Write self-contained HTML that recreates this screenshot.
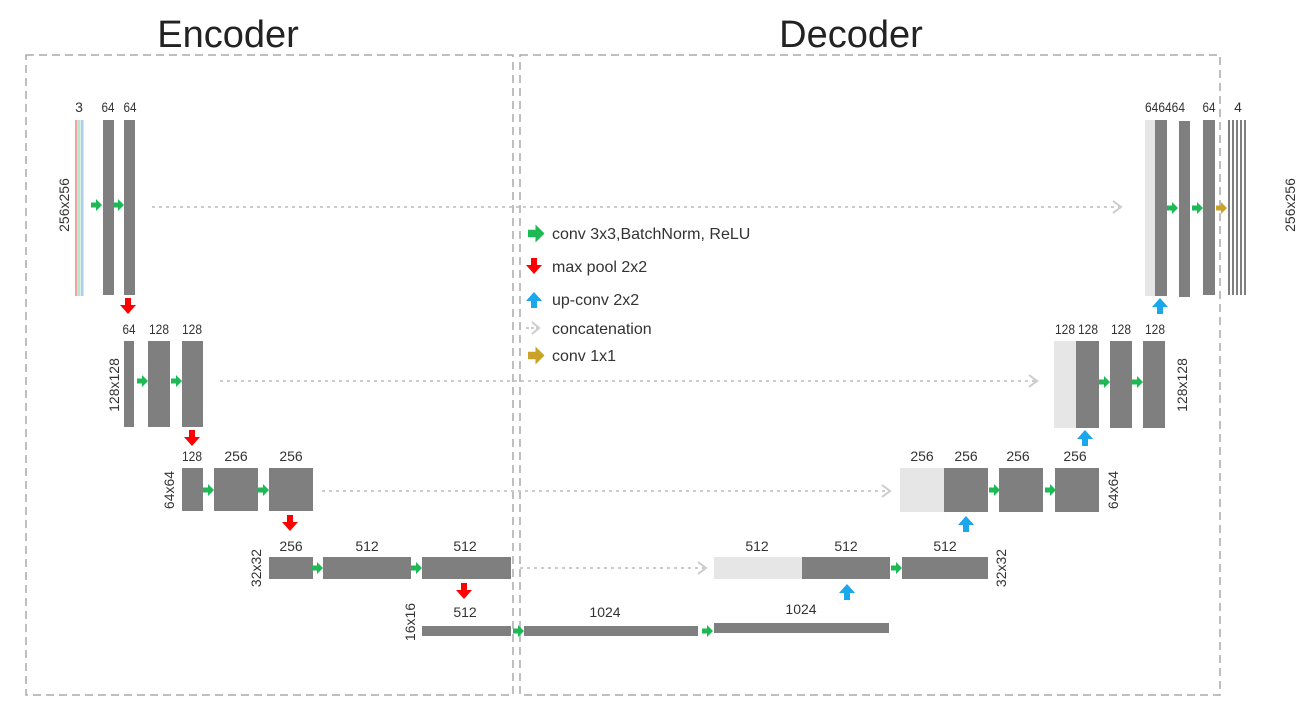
<!DOCTYPE html>
<html><head><meta charset="utf-8"><style>
html,body{margin:0;padding:0;background:#fff}
svg{display:block}
.l{font-family:"Liberation Sans Narrow","Liberation Sans",sans-serif;font-size:14px;fill:#333;text-anchor:middle}
.g{font-family:"Liberation Sans",sans-serif;font-size:16px;fill:#333}
.t{font-family:"Liberation Sans",sans-serif;font-size:38px;fill:#222;text-anchor:middle}
.d{fill:#7f7f7f}.w{fill:#e6e6e6}
</style></head><body>
<svg width="1311" height="714" viewBox="0 0 1311 714" xmlns="http://www.w3.org/2000/svg">
<defs>
<polygon id="ga" points="-5,-2.5 0,-2.5 0,-6 6,0 0,6 0,2.5 -5,2.5" fill="#1db954"/>
<polygon id="oa" points="-5,-2.5 0,-2.5 0,-6 6,0 0,6 0,2.5 -5,2.5" fill="#c9a227"/>
<polygon id="ra" points="-3,0 3,0 3,7 8,7 0,16 -8,7 -3,7" fill="#f00"/>
<polygon id="ba" points="-3,16 3,16 3,9 8,9 0,0 -8,9 -3,9" fill="#1aa7ec"/>
</defs>
<g fill="none" stroke="#aaa" stroke-width="1.5" stroke-dasharray="8,5">
<rect x="26" y="55" width="487" height="640"/>
<rect x="520" y="55" width="700" height="640"/>
</g>
<text class="t" x="228" y="47">Encoder</text>
<text class="t" x="851" y="47">Decoder</text>
<g stroke="#ccc" stroke-width="2" stroke-dasharray="3,4" fill="none">
<line x1="152" y1="207" x2="1120" y2="207"/>
<line x1="220" y1="381" x2="1035" y2="381"/>
<line x1="322" y1="491" x2="888" y2="491"/>
<line x1="520" y1="568" x2="704" y2="568"/>
</g>
<g stroke="#ccc" stroke-width="2" fill="none">
<polyline points="1113,201 1121,207 1113,213"/>
<polyline points="1029,375 1037,381 1029,387"/>
<polyline points="882,485 890,491 882,497"/>
<polyline points="698,562 706,568 698,574"/>
</g>
<!-- row1 encoder -->
<rect x="75" y="120" width="2.5" height="176" fill="#f4a0a0"/>
<rect x="78" y="120" width="2.5" height="176" fill="#b8e6cc"/>
<rect x="81" y="120" width="2.5" height="176" fill="#a8cdef"/>
<rect class="d" x="103" y="120" width="11" height="175"/>
<rect class="d" x="124" y="120" width="11" height="175"/>
<text class="l" x="79" y="112">3</text><text class="l" x="108" y="112" textLength="13" lengthAdjust="spacingAndGlyphs">64</text><text class="l" x="130" y="112" textLength="13" lengthAdjust="spacingAndGlyphs">64</text>
<text class="l" transform="translate(69,205) rotate(-90)">256x256</text>
<use href="#ga" x="96" y="205"/><use href="#ga" x="118" y="205"/>
<use href="#ra" x="128" y="298"/>
<!-- row2 -->
<rect class="d" x="124" y="341" width="10" height="86"/>
<rect class="d" x="148" y="341" width="22" height="86"/>
<rect class="d" x="182" y="341" width="21" height="86"/>
<text class="l" x="129" y="334" textLength="13" lengthAdjust="spacingAndGlyphs">64</text><text class="l" x="159" y="334" textLength="20" lengthAdjust="spacingAndGlyphs">128</text><text class="l" x="192" y="334" textLength="20" lengthAdjust="spacingAndGlyphs">128</text>
<text class="l" transform="translate(119,385) rotate(-90)">128x128</text>
<use href="#ga" x="142" y="381"/><use href="#ga" x="176" y="381"/>
<use href="#ra" x="192" y="430"/>
<!-- row3 -->
<rect class="d" x="182" y="468" width="21" height="43"/>
<rect class="d" x="214" y="468" width="44" height="43"/>
<rect class="d" x="269" y="468" width="44" height="43"/>
<text class="l" x="192" y="461" textLength="20" lengthAdjust="spacingAndGlyphs">128</text><text class="l" x="236" y="461">256</text><text class="l" x="291" y="461">256</text>
<text class="l" transform="translate(174,490) rotate(-90)">64x64</text>
<use href="#ga" x="208" y="490"/><use href="#ga" x="263" y="490"/>
<use href="#ra" x="290" y="515"/>
<!-- row4 -->
<rect class="d" x="269" y="557" width="44" height="22"/>
<rect class="d" x="323" y="557" width="88" height="22"/>
<rect class="d" x="422" y="557" width="89" height="22"/>
<text class="l" x="291" y="551">256</text><text class="l" x="367" y="551">512</text><text class="l" x="465" y="551">512</text>
<text class="l" transform="translate(261,568) rotate(-90)">32x32</text>
<use href="#ga" x="317" y="568"/><use href="#ga" x="416" y="568"/>
<use href="#ra" x="464" y="583"/>
<!-- row5 -->
<rect class="d" x="422" y="626" width="89" height="10"/>
<rect class="d" x="524" y="626" width="174" height="10"/>
<rect class="d" x="714" y="623" width="175" height="10"/>
<text class="l" x="465" y="617">512</text><text class="l" x="605" y="617">1024</text><text class="l" x="801" y="614">1024</text>
<text class="l" transform="translate(415,622) rotate(-90)">16x16</text>
<use href="#ga" x="518" y="631"/><use href="#ga" x="707" y="631"/>
<!-- decoder row4 -->
<rect class="w" x="714" y="557" width="88" height="22"/>
<rect class="d" x="802" y="557" width="88" height="22"/>
<rect class="d" x="902" y="557" width="86" height="22"/>
<text class="l" x="757" y="551">512</text><text class="l" x="846" y="551">512</text><text class="l" x="945" y="551">512</text>
<text class="l" transform="translate(1006,568) rotate(-90)">32x32</text>
<use href="#ga" x="896" y="568"/>
<use href="#ba" x="847" y="584"/>
<!-- decoder row3 -->
<rect class="w" x="900" y="468" width="44" height="44"/>
<rect class="d" x="944" y="468" width="44" height="44"/>
<rect class="d" x="999" y="468" width="44" height="44"/>
<rect class="d" x="1055" y="468" width="44" height="44"/>
<text class="l" x="922" y="461">256</text><text class="l" x="966" y="461">256</text><text class="l" x="1018" y="461">256</text><text class="l" x="1075" y="461">256</text>
<text class="l" transform="translate(1118,490) rotate(-90)">64x64</text>
<use href="#ga" x="994" y="490"/><use href="#ga" x="1050" y="490"/>
<use href="#ba" x="966" y="516"/>
<!-- decoder row2 -->
<rect class="w" x="1054" y="341" width="22" height="87"/>
<rect class="d" x="1076" y="341" width="23" height="87"/>
<rect class="d" x="1110" y="341" width="22" height="87"/>
<rect class="d" x="1143" y="341" width="22" height="87"/>
<text class="l" x="1065" y="334" textLength="20" lengthAdjust="spacingAndGlyphs">128</text><text class="l" x="1088" y="334" textLength="20" lengthAdjust="spacingAndGlyphs">128</text><text class="l" x="1121" y="334" textLength="20" lengthAdjust="spacingAndGlyphs">128</text><text class="l" x="1155" y="334" textLength="20" lengthAdjust="spacingAndGlyphs">128</text>
<text class="l" transform="translate(1187,385) rotate(-90)">128x128</text>
<use href="#ga" x="1104" y="382"/><use href="#ga" x="1137" y="382"/>
<use href="#ba" x="1085" y="430"/>
<!-- decoder row1 -->
<rect class="w" x="1145" y="120" width="10" height="176"/>
<rect class="d" x="1155" y="120" width="12" height="176"/>
<rect class="d" x="1179" y="121" width="11" height="176"/>
<rect class="d" x="1203" y="120" width="12" height="175"/>
<g class="d"><rect x="1228" y="120" width="2" height="175"/><rect x="1232" y="120" width="2" height="175"/><rect x="1236" y="120" width="2" height="175"/><rect x="1240" y="120" width="2" height="175"/><rect x="1244" y="120" width="2" height="175"/></g>
<text class="l" x="1165" y="112" textLength="40" lengthAdjust="spacingAndGlyphs">646464</text><text class="l" x="1209" y="112" textLength="13" lengthAdjust="spacingAndGlyphs">64</text><text class="l" x="1238" y="112">4</text>
<text class="l" transform="translate(1295,205) rotate(-90)">256x256</text>
<use href="#ga" x="1172" y="208"/><use href="#ga" x="1197" y="208"/><use href="#oa" x="1221" y="208"/>
<use href="#ba" x="1160" y="298"/>
<!-- legend -->
<use href="#ga" x="535" y="233" transform="translate(-267,-116) scale(1.5)"/><text class="g" x="552" y="239">conv 3x3,BatchNorm, ReLU</text>
<use href="#ra" x="534" y="258"/><text class="g" x="552" y="272">max pool 2x2</text>
<use href="#ba" x="534" y="292"/><text class="g" x="552" y="305">up-conv 2x2</text>
<g stroke="#ccc" stroke-width="2" fill="none"><line x1="526" y1="328" x2="538" y2="328" stroke-dasharray="3,2"/><polyline points="532,322 539,328 532,334"/></g>
<text class="g" x="552" y="334">concatenation</text>
<use href="#oa" x="535" y="355" transform="translate(-267,-177) scale(1.5)"/><text class="g" x="552" y="361">conv 1x1</text>
</svg>
</body></html>
